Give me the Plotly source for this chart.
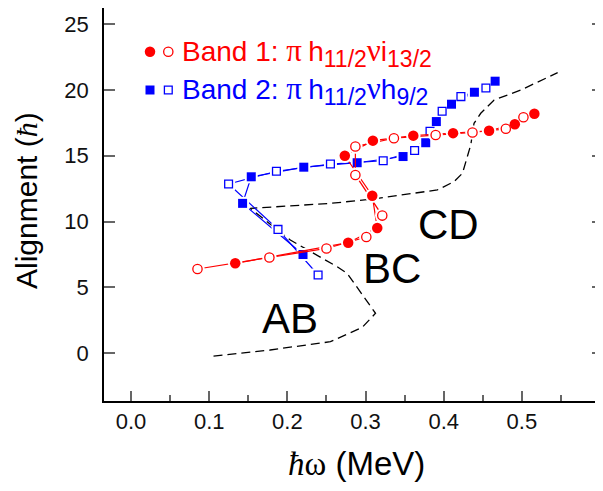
import plotly.graph_objects as go

# ---------------- data ----------------
# Band 1 (red circles): filled = one signature, open = the other
b1_filled_w = [0.1333, 0.2778, 0.315, 0.3086, 0.2735, 0.3094, 0.3611, 0.412, 0.458, 0.491, 0.516]
b1_filled_i = [6.82, 8.39, 9.50, 11.96, 15.0, 16.15, 16.53, 16.72, 16.9, 17.4, 18.2]
b1_open_w = [0.085, 0.177, 0.25, 0.301, 0.3214, 0.287, 0.287, 0.3363, 0.3897, 0.4368, 0.4795, 0.502]
b1_open_i = [6.39, 7.26, 7.95, 8.82, 10.45, 13.54, 15.7, 16.33, 16.58, 16.77, 17.05, 17.93]

# Band 2 (blue squares)
b2_filled_w = [0.220, 0.1427, 0.1538, 0.221, 0.2893, 0.348, 0.377, 0.3906, 0.41, 0.4393, 0.4658]
b2_filled_i = [7.49, 11.38, 13.40, 14.13, 14.47, 14.94, 15.99, 17.6, 18.92, 19.83, 20.67]
b2_open_w = [0.2393, 0.188, 0.1248, 0.186, 0.2551, 0.3226, 0.3628, 0.3825, 0.398, 0.422, 0.454]
b2_open_i = [5.93, 9.40, 12.85, 13.82, 14.37, 14.62, 15.4, 16.86, 18.38, 19.5, 20.15]

# Calculated reference curve (dashed)
calc_w = [0.1055, 0.178, 0.2551, 0.2958, 0.3128, 0.2765, 0.2637, 0.2038, 0.1526,
          0.2551, 0.3064, 0.3747, 0.3919, 0.4132, 0.424, 0.4346, 0.4388, 0.4474,
          0.4645, 0.4987, 0.5458]
calc_i = [-0.23, 0.23, 0.86, 1.95, 3.02, 6.06, 6.56, 8.59, 11.0,
          11.38, 11.69, 12.27, 12.4, 13.03, 13.67, 15.82, 17.47, 18.23,
          19.24, 20.0, 21.32]

# Crossing labels
cross_labels = ["AB", "BC", "CD"]
cross_w = [0.2032, 0.334, 0.4058]
cross_i = [2.66, 6.46, 9.81]

x_ticks = [0.0, 0.1, 0.2, 0.3, 0.4, 0.5]
x_ticktext = ["0.0", "0.1", "0.2", "0.3", "0.4", "0.5"]
x_minor = [0.05, 0.15, 0.25, 0.35, 0.45, 0.55]
y_ticks = [0, 5, 10, 15, 20, 25]

GREEK = "font-family:Liberation Serif;font-size:31px"
SUB = "font-size:23px"
band1_label = (f'Band 1: <span style="{GREEK}">π\u2009</span>h<sub><span style="{SUB}">11/2</span></sub>'
               f'<span style="{GREEK}">ν</span>i<sub><span style="{SUB}">13/2</span></sub>')
band2_label = (f'Band 2: <span style="{GREEK}">π\u2009</span>h<sub><span style="{SUB}">11/2</span></sub>'
               f'<span style="{GREEK}">ν</span>h<sub><span style="{SUB}">9/2</span></sub>')

RED = "#ff0000"
BLUE = "#0000ff"
SANS = "Liberation Sans, Arial, sans-serif"

# page offset of the html body (8 px) is compensated in the layout
PLOT_H = 393.0


def py(ref_y):
    """plot-fraction y for a reference pixel row"""
    return 1 - (ref_y - 8) / PLOT_H


def px(ref_x):
    return (ref_x - 104) / 499.0


fig = go.Figure()

fig.add_trace(go.Scatter(x=calc_w, y=calc_i, mode="lines",
                         line=dict(color="black", width=1.3, dash="9px,5px"),
                         hoverinfo="skip"))

bands = [
    (b2_filled_w, b2_filled_i, b2_open_w, b2_open_i, BLUE, "square", 9),
    (b1_filled_w, b1_filled_i, b1_open_w, b1_open_i, RED, "circle", 10.5),
]
for fw, fi, ow, oi, col, sym, sz in bands:
    for xs, ys in ((fw, fi), (ow, oi)):
        fig.add_trace(go.Scatter(x=xs, y=ys, mode="lines",
                                 line=dict(color=col, width=1.2)))
    fig.add_trace(go.Scatter(x=fw + ow, y=fi + oi, mode="markers",
                             marker=dict(symbol=sym, size=sz + 4, color="white",
                                         line=dict(width=0))))
    fig.add_trace(go.Scatter(x=fw, y=fi, mode="markers",
                             marker=dict(symbol=sym, size=sz, color=col,
                                         line=dict(width=0))))
    fig.add_trace(go.Scatter(x=ow, y=oi, mode="markers",
                             marker=dict(symbol=sym, size=sz - 1.2, color="white",
                                         line=dict(width=1.3, color=col))))

leg_rows = [(py(51.7), RED, "circle", 10.5), (py(90), BLUE, "square", 9)]
for yy, col, sym, sz in leg_rows:
    fig.add_trace(go.Scatter(x=[px(150)], y=[yy], xaxis="x2", yaxis="y2", mode="markers",
                             marker=dict(symbol=sym, size=sz, color=col, line=dict(width=0))))
    fig.add_trace(go.Scatter(x=[px(168.3)], y=[yy], xaxis="x2", yaxis="y2", mode="markers",
                             marker=dict(symbol=sym, size=sz - 1.2, color="white",
                                         line=dict(width=1.3, color=col))))

annotations = []
annotations.append(dict(x=px(180), y=py(53), xref="paper", yref="paper", text=band1_label,
                        showarrow=False, xanchor="left", yanchor="middle",
                        font=dict(family=SANS, size=28, color=RED)))
annotations.append(dict(x=px(180), y=py(91), xref="paper", yref="paper", text=band2_label,
                        showarrow=False, xanchor="left", yanchor="middle",
                        font=dict(family=SANS, size=28, color=BLUE)))
for t, xw, yi in zip(cross_labels, cross_w, cross_i):
    annotations.append(dict(x=xw, y=yi, xref="x", yref="y", text=t, showarrow=False,
                            xanchor="center", yanchor="middle",
                            font=dict(family=SANS, size=42, color="black")))
annotations.append(dict(x=px(356.7), y=py(463), xref="paper", yref="paper",
                        text='<span style="font-family:Liberation Serif"><i>ħ</i>ω</span> (MeV)',
                        showarrow=False, xanchor="center", yanchor="middle",
                        font=dict(family=SANS, size=33, color="black")))
annotations.append(dict(x=px(26), y=py(201), xref="paper", yref="paper",
                        text='Alignment (<span style="font-family:Liberation Serif"><i>ħ</i></span>)',
                        showarrow=False, xanchor="center", yanchor="middle", textangle=-90,
                        font=dict(family=SANS, size=30, color="black")))

fig.update_layout(
    width=603, height=491,
    margin=dict(l=96, r=8, t=0, b=98),
    paper_bgcolor="white", plot_bgcolor="white",
    showlegend=False,
    annotations=annotations,
    xaxis=dict(range=[-0.0346, 0.6038], showline=True, linecolor="black", linewidth=1.5,
               ticks="inside", tickvals=x_ticks, ticktext=x_ticktext, ticklen=10,
               tickwidth=1.5, tickcolor="#666",
               minor=dict(tickvals=x_minor, ticks="inside", ticklen=6, tickwidth=1.5,
                          tickcolor="#666"),
               showgrid=False, zeroline=False,
               tickfont=dict(family=SANS, size=22, color="#111")),
    yaxis=dict(range=[-3.65, 26.236], showline=True, linecolor="black", linewidth=1.5,
               mirror="ticks", ticks="inside", tickvals=y_ticks, ticklen=11,
               tickwidth=1.5, tickcolor="#666", showgrid=False, zeroline=False,
               ticklabelstandoff=9,
               tickfont=dict(family=SANS, size=22, color="#111")),
    xaxis2=dict(overlaying="x", anchor="y2", range=[0, 1], visible=False),
    yaxis2=dict(overlaying="y", anchor="x2", range=[0, 1], visible=False),
)

fig.write_html("out.html")
